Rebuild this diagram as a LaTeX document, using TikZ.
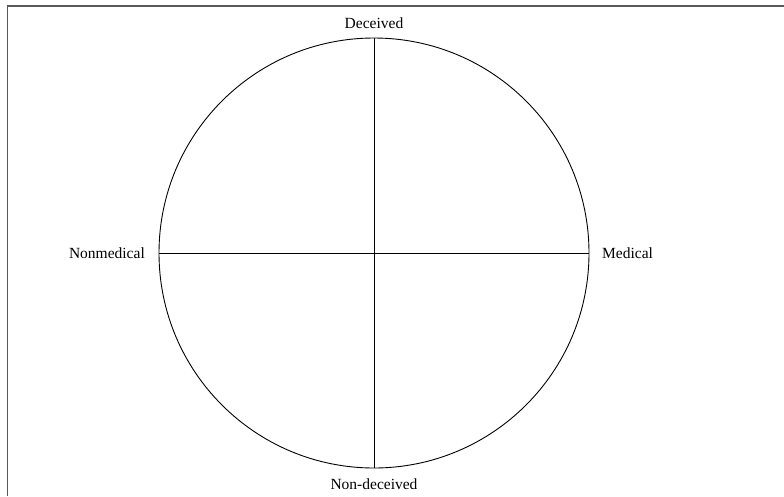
\documentclass[tikz,border=0pt]{standalone}
\usepackage{fontspec}
\setmainfont{Liberation Serif}
\usetikzlibrary{positioning}

\begin{document}
\begin{tikzpicture}[
    x=1pt, y=-1pt,
    axis/.style={line width=0.9pt, black},
    frame/.style={line width=1.6pt, gray!70!black},
    lbl/.style={font=\fontsize{15.5}{18}\selectfont, inner sep=0pt}
  ]
  \useasboundingbox (0,0) rectangle (784,496);
  \draw[frame] (7.5,496) -- (7.5,6) -- (784,6);

  \coordinate (c) at (374,253);
  \coordinate (top)   at (374,38);
  \coordinate (bot)   at (374,468);
  \coordinate (left)  at (159,253);
  \coordinate (right) at (589,253);

  \draw[axis] (c) circle[radius=215];
  \draw[axis] (top) -- (bot);
  \draw[axis] (left) -- (right);

  \node[lbl, above=9pt of top]  (dec)  {Deceived};
  \node[lbl, below=11pt of bot] (ndec) {Non-deceived};
  \node[lbl, left=14pt of left]  (nmed) {Nonmedical};
  \node[lbl, right=13pt of right] (med) {Medical};
\end{tikzpicture}
\end{document}
